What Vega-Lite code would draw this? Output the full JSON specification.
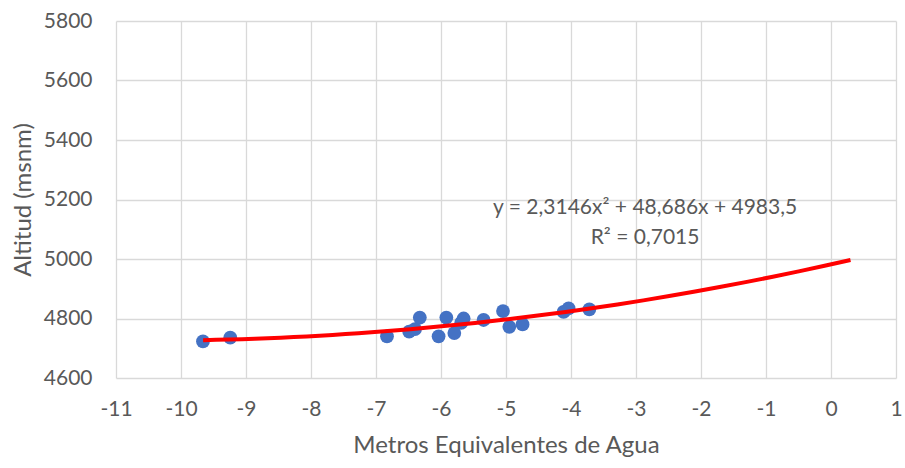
{
  "$schema": "https://vega.github.io/schema/vega-lite/v6.json",
  "autosize": "none",
  "width": 780,
  "height": 357,
  "padding": {"left": 116, "top": 21, "right": 9, "bottom": 90},
  "background": "white",
  "config": {"view": {"stroke": null}, "font": "Lato"},
  "data": {"values": [
    {"mwe": -9.662, "alt": 4723},
    {"mwe": -9.242, "alt": 4736},
    {"mwe": -6.831, "alt": 4740},
    {"mwe": -6.49, "alt": 4756},
    {"mwe": -6.40, "alt": 4764},
    {"mwe": -6.326, "alt": 4803},
    {"mwe": -6.037, "alt": 4740},
    {"mwe": -5.918, "alt": 4803},
    {"mwe": -5.795, "alt": 4751},
    {"mwe": -5.69, "alt": 4785},
    {"mwe": -5.652, "alt": 4800},
    {"mwe": -5.345, "alt": 4795},
    {"mwe": -5.046, "alt": 4825},
    {"mwe": -4.949, "alt": 4772},
    {"mwe": -4.745, "alt": 4780},
    {"mwe": -4.114, "alt": 4822},
    {"mwe": -4.037, "alt": 4834},
    {"mwe": -3.718, "alt": 4831}
  ]},
  "layer": [
    {
      "mark": {"type": "point", "filled": true, "size": 190, "opacity": 1, "color": "#4472C4"},
      "encoding": {
        "x": {"field": "mwe", "type": "quantitative",
          "scale": {"domain": [-11, 1], "nice": false, "zero": false},
          "axis": {"title": "Metros Equivalentes de Agua", "values": [-11,-10,-9,-8,-7,-6,-5,-4,-3,-2,-1,0,1],
            "labelExpr": "datum.value < 0 ? '-' + format(-datum.value, 'd') : format(datum.value, 'd')",
            "labelOverlap": false, "labelFlush": false,
            "grid": true, "gridColor": "#D9D9D9", "gridWidth": 1.3, "domain": false, "ticks": false,
            "labelFontSize": 21, "labelColor": "#595959", "labelPadding": 20,
            "titleFontSize": 24, "titleColor": "#595959", "titleFontWeight": "normal", "titlePadding": 14}},
        "y": {"field": "alt", "type": "quantitative",
          "scale": {"domain": [4600, 5800], "nice": false, "zero": false},
          "axis": {"title": "Altitud (msnm)", "values": [4600,4800,5000,5200,5400,5600,5800],
            "format": "d", "labelOverlap": false, "labelFlush": false,
            "grid": true, "gridColor": "#D9D9D9", "gridWidth": 1.3, "domain": false, "ticks": false,
            "labelFontSize": 21, "labelColor": "#595959", "labelPadding": 24,
            "titleFontSize": 24, "titleColor": "#595959", "titleFontWeight": "normal", "titlePadding": 8}}
      }
    },
    {
      "transform": [{"regression": "alt", "on": "mwe", "method": "poly", "order": 2, "extent": [-9.66, 0.3]}],
      "mark": {"type": "line", "color": "#FF0000", "strokeWidth": 4, "interpolate": "monotone"},
      "encoding": {
        "x": {"field": "mwe", "type": "quantitative"},
        "y": {"field": "alt", "type": "quantitative"}
      }
    },
    {
      "data": {"values": [{"label": "trend"}]},
      "mark": {"type": "text", "font": "Lato", "fontSize": 21, "fontWeight": 400, "fill": "#595959", "align": "center", "baseline": "middle", "lineHeight": 30},
      "encoding": {
        "x": {"datum": -2.86},
        "y": {"datum": 5170},
        "text": {"value": ["y = 2,3146x² + 48,686x + 4983,5", "R² = 0,7015"]}
      }
    }
  ]
}
